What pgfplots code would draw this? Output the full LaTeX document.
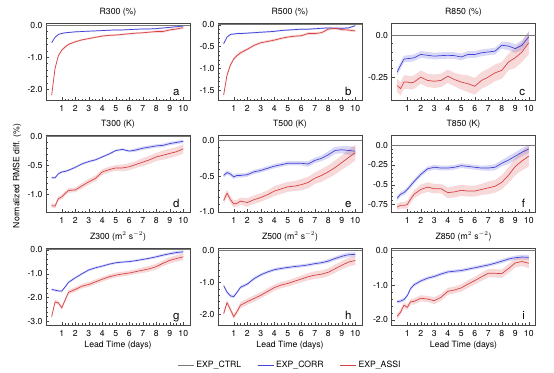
\documentclass[border=0pt]{standalone}
\usepackage{pgfplots}
\pgfplotsset{compat=1.18}
\usepackage{pgfplotstable}
\usepgfplotslibrary{fillbetween}
\usepackage{fontspec}
\setmainfont{TeX Gyre Heros}

\definecolor{ctrl}{RGB}{120,120,120}
\definecolor{corr}{RGB}{65,65,215}
\definecolor{assi}{RGB}{215,65,65}
\definecolor{framec}{RGB}{70,70,70}

\newcommand{\fs}{\fontsize{8.7}{10}\selectfont}
\pgfplotsset{legend image code/.code={\draw[#1, line width=0.9bp] (0bp,0bp) -- (16bp,0bp);}}

% panel a R300
\pgfplotstableread{
x b be r re
0.25 -0.55 0.02 -2.18 0.05
0.5 -0.38 0.02 -1.35 0.05
0.75 -0.29 0.02 -0.95 0.04
1 -0.26 0.02 -0.78 0.04
1.25 -0.24 0.02 -0.68 0.04
1.5 -0.23 0.02 -0.60 0.03
2 -0.21 0.02 -0.52 0.03
2.5 -0.20 0.02 -0.46 0.03
3 -0.19 0.02 -0.42 0.03
3.5 -0.18 0.02 -0.38 0.03
4 -0.17 0.02 -0.34 0.03
4.5 -0.16 0.02 -0.32 0.03
5 -0.15 0.02 -0.31 0.03
5.5 -0.15 0.02 -0.29 0.03
6 -0.14 0.02 -0.27 0.03
6.5 -0.13 0.02 -0.25 0.03
7 -0.12 0.02 -0.24 0.03
7.5 -0.12 0.02 -0.22 0.03
8 -0.11 0.02 -0.20 0.04
8.5 -0.09 0.02 -0.20 0.04
9 -0.07 0.02 -0.15 0.04
9.5 -0.05 0.02 -0.12 0.04
10 -0.03 0.02 -0.08 0.04
}\tA
% panel b R500
\pgfplotstableread{
x b be r re
0.25 -0.43 0.02 -1.60 0.05
0.5 -0.28 0.02 -1.15 0.05
0.75 -0.22 0.02 -0.92 0.04
1 -0.21 0.02 -0.78 0.04
1.25 -0.20 0.02 -0.70 0.04
1.5 -0.20 0.02 -0.64 0.04
2 -0.19 0.02 -0.56 0.03
2.5 -0.18 0.02 -0.47 0.03
3 -0.17 0.02 -0.41 0.03
3.5 -0.16 0.02 -0.38 0.03
4 -0.15 0.02 -0.35 0.03
4.5 -0.13 0.02 -0.31 0.03
5 -0.12 0.02 -0.28 0.03
5.5 -0.11 0.02 -0.26 0.03
6 -0.10 0.02 -0.25 0.03
6.5 -0.10 0.02 -0.20 0.03
7 -0.09 0.02 -0.20 0.03
7.5 -0.08 0.02 -0.18 0.03
8 -0.07 0.02 -0.10 0.03
8.5 -0.08 0.02 -0.08 0.03
9 -0.08 0.02 -0.11 0.03
9.5 -0.07 0.02 -0.12 0.03
10 -0.02 0.02 -0.14 0.03
}\tB
% panel c R850
\pgfplotstableread{
x b be r re
0.25 -0.22 0.02 -0.30 0.04
0.5 -0.18 0.02 -0.32 0.04
0.75 -0.143 0.02 -0.28 0.04
1 -0.14 0.02 -0.28 0.04
1.25 -0.138 0.02 -0.285 0.04
1.5 -0.135 0.02 -0.28 0.04
2 -0.115 0.02 -0.25 0.04
2.5 -0.12 0.02 -0.27 0.04
3 -0.125 0.02 -0.275 0.04
3.5 -0.122 0.02 -0.27 0.04
4 -0.12 0.02 -0.245 0.04
4.5 -0.122 0.02 -0.265 0.04
5 -0.13 0.02 -0.28 0.045
5.5 -0.115 0.02 -0.29 0.05
6 -0.115 0.02 -0.305 0.05
6.5 -0.105 0.02 -0.27 0.05
7 -0.10 0.02 -0.25 0.05
7.5 -0.095 0.02 -0.225 0.05
8 -0.06 0.02 -0.21 0.05
8.5 -0.065 0.025 -0.16 0.05
9 -0.08 0.025 -0.135 0.06
9.5 -0.06 0.03 -0.10 0.06
10 -0.01 0.03 -0.045 0.07
}\tC
% panel d T300
\pgfplotstableread{
x b be r re
0.25 -0.71 0.02 -1.19 0.04
0.5 -0.71 0.02 -1.20 0.04
0.75 -0.64 0.02 -1.07 0.04
1 -0.61 0.02 -1.04 0.04
1.25 -0.60 0.02 -0.98 0.04
1.5 -0.58 0.02 -0.93 0.04
2 -0.53 0.02 -0.92 0.04
2.5 -0.47 0.02 -0.85 0.05
3 -0.43 0.02 -0.78 0.05
3.5 -0.40 0.02 -0.72 0.05
4 -0.35 0.02 -0.61 0.05
4.5 -0.30 0.02 -0.57 0.05
5 -0.24 0.02 -0.54 0.05
5.5 -0.22 0.02 -0.54 0.06
6 -0.25 0.02 -0.52 0.06
6.5 -0.23 0.03 -0.48 0.06
7 -0.20 0.03 -0.44 0.07
7.5 -0.18 0.03 -0.40 0.07
8 -0.16 0.03 -0.35 0.07
8.5 -0.15 0.03 -0.32 0.08
9 -0.12 0.03 -0.29 0.08
9.5 -0.10 0.03 -0.26 0.08
10 -0.08 0.03 -0.21 0.08
}\tD
% panel e T500
\pgfplotstableread{
x b be r re
0.25 -0.49 0.03 -0.84 0.05
0.5 -0.45 0.03 -0.74 0.05
0.75 -0.47 0.03 -0.83 0.05
1 -0.51 0.03 -0.89 0.05
1.25 -0.49 0.03 -0.88 0.05
1.5 -0.49 0.03 -0.85 0.05
2 -0.48 0.03 -0.87 0.06
2.5 -0.44 0.03 -0.83 0.06
3 -0.42 0.03 -0.80 0.06
3.5 -0.39 0.03 -0.76 0.06
4 -0.36 0.03 -0.71 0.07
4.5 -0.34 0.03 -0.68 0.07
5 -0.32 0.03 -0.65 0.07
5.5 -0.32 0.03 -0.64 0.07
6 -0.32 0.03 -0.62 0.08
6.5 -0.33 0.04 -0.59 0.08
7 -0.28 0.04 -0.53 0.08
7.5 -0.25 0.04 -0.49 0.09
8 -0.20 0.05 -0.44 0.09
8.5 -0.14 0.05 -0.38 0.10
9 -0.13 0.05 -0.31 0.10
9.5 -0.14 0.06 -0.24 0.11
10 -0.15 0.06 -0.17 0.11
}\tE
% panel f T850
\pgfplotstableread{
x b be r re
0.25 -0.67 0.03 -0.78 0.04
0.5 -0.62 0.03 -0.76 0.04
0.75 -0.60 0.03 -0.76 0.04
1 -0.56 0.03 -0.75 0.05
1.25 -0.51 0.03 -0.68 0.05
1.5 -0.46 0.03 -0.62 0.05
2 -0.37 0.03 -0.56 0.06
2.5 -0.30 0.03 -0.53 0.06
3 -0.28 0.03 -0.55 0.06
3.5 -0.29 0.03 -0.55 0.06
4 -0.29 0.03 -0.60 0.07
4.5 -0.28 0.03 -0.59 0.07
5 -0.26 0.03 -0.57 0.07
5.5 -0.27 0.03 -0.58 0.07
6 -0.28 0.03 -0.58 0.07
6.5 -0.29 0.03 -0.56 0.07
7 -0.29 0.035 -0.54 0.08
7.5 -0.28 0.04 -0.52 0.08
8 -0.23 0.04 -0.47 0.09
8.5 -0.19 0.05 -0.38 0.10
9 -0.14 0.05 -0.27 0.11
9.5 -0.09 0.05 -0.20 0.12
10 -0.05 0.05 -0.14 0.13
}\tF
% panel g Z300
\pgfplotstableread{
x b be r re
0.25 -1.66 0.05 -2.80 0.08
0.5 -1.69 0.05 -2.18 0.08
0.75 -1.72 0.05 -2.22 0.08
1 -1.73 0.05 -2.43 0.08
1.25 -1.55 0.05 -2.10 0.08
1.5 -1.36 0.05 -1.78 0.10
2 -1.17 0.05 -1.66 0.10
2.5 -1.00 0.05 -1.52 0.10
3 -0.84 0.05 -1.45 0.10
3.5 -0.75 0.05 -1.34 0.10
4 -0.68 0.05 -1.23 0.10
4.5 -0.60 0.05 -1.13 0.10
5 -0.54 0.05 -1.06 0.10
5.5 -0.51 0.05 -1.01 0.10
6 -0.49 0.05 -0.97 0.10
6.5 -0.45 0.05 -0.91 0.10
7 -0.40 0.05 -0.85 0.12
7.5 -0.35 0.05 -0.79 0.12
8 -0.29 0.06 -0.70 0.12
8.5 -0.22 0.06 -0.56 0.12
9 -0.16 0.06 -0.44 0.13
9.5 -0.11 0.07 -0.36 0.14
10 -0.08 0.07 -0.29 0.14
}\tG
% panel h Z500
\pgfplotstableread{
x b be r re
0.25 -1.10 0.05 -1.97 0.08
0.5 -1.30 0.05 -1.63 0.08
0.75 -1.42 0.05 -1.85 0.08
1 -1.44 0.05 -2.07 0.08
1.25 -1.30 0.05 -1.90 0.08
1.5 -1.15 0.05 -1.71 0.10
2 -1.05 0.05 -1.60 0.10
2.5 -0.88 0.05 -1.50 0.10
3 -0.76 0.05 -1.40 0.10
3.5 -0.67 0.05 -1.28 0.10
4 -0.60 0.05 -1.16 0.10
4.5 -0.56 0.05 -1.08 0.10
5 -0.53 0.05 -1.03 0.10
5.5 -0.50 0.05 -0.96 0.10
6 -0.48 0.05 -0.89 0.11
6.5 -0.45 0.05 -0.82 0.11
7 -0.41 0.05 -0.77 0.12
7.5 -0.38 0.05 -0.74 0.12
8 -0.33 0.06 -0.68 0.12
8.5 -0.25 0.06 -0.57 0.13
9 -0.18 0.07 -0.46 0.13
9.5 -0.13 0.07 -0.36 0.14
10 -0.12 0.07 -0.31 0.14
}\tH
% panel i Z850
\pgfplotstableread{
x b be r re
0.25 -1.48 0.05 -1.90 0.08
0.5 -1.46 0.05 -1.78 0.08
0.75 -1.42 0.05 -1.58 0.08
1 -1.30 0.05 -1.64 0.08
1.25 -1.10 0.05 -1.48 0.08
1.5 -0.99 0.05 -1.47 0.09
2 -0.88 0.05 -1.38 0.09
2.5 -0.80 0.05 -1.40 0.09
3 -0.75 0.05 -1.45 0.10
3.5 -0.68 0.05 -1.35 0.10
4 -0.62 0.05 -1.18 0.10
4.5 -0.60 0.05 -1.14 0.10
5 -0.58 0.05 -1.08 0.11
5.5 -0.54 0.05 -0.97 0.11
6 -0.50 0.05 -0.87 0.11
6.5 -0.46 0.05 -0.76 0.12
7 -0.42 0.05 -0.66 0.12
7.5 -0.37 0.05 -0.66 0.12
8 -0.31 0.06 -0.67 0.12
8.5 -0.25 0.06 -0.52 0.13
9 -0.21 0.06 -0.36 0.13
9.5 -0.19 0.07 -0.32 0.13
10 -0.20 0.07 -0.37 0.14
}\tI

\newcommand{\series}[2]{%
  \addplot[draw=none, name path=bu#2, forget plot] table[x=x, y expr=\thisrow{b}+\thisrow{be}] {#1};
  \addplot[draw=none, name path=bl#2, forget plot] table[x=x, y expr=\thisrow{b}-\thisrow{be}] {#1};
  \addplot[draw=none, name path=ru#2, forget plot] table[x=x, y expr=\thisrow{r}+\thisrow{re}] {#1};
  \addplot[draw=none, name path=rl#2, forget plot] table[x=x, y expr=\thisrow{r}-\thisrow{re}] {#1};
  \addplot[fill=corr, fill opacity=0.2, draw=none, forget plot] fill between[of=bu#2 and bl#2];
  \addplot[fill=assi, fill opacity=0.2, draw=none, forget plot] fill between[of=ru#2 and rl#2];
  \addplot[ctrl, line width=0.9bp] coordinates {(-1,0) (11,0)};
  \addplot[corr, line width=0.7bp] table[x=x, y=b] {#1};
  \addplot[assi, line width=0.7bp] table[x=x, y=r] {#1};
}
\newcommand{\plabel}[1]{\node[anchor=base east, xshift=-7bp, yshift=5bp, font=\fontsize{11.5}{12}\selectfont] at (rel axis cs:1,0) {#1};}

\pgfplotsset{panel/.style={
  scale only axis, width=144bp, height=77bp,
  xmin=-0.17, xmax=10.5,
  xtick={1,2,3,4,5,6,7,8,9,10},
  xticklabels={1,2,3,4,5,6,7,8,9,10},
  minor x tick num=3, minor y tick num=4,
  tick pos=left, tick align=inside,
  major tick length=3bp, minor tick length=1.5bp,
  axis line style={framec, line width=0.5bp},
  every tick/.style={framec, line width=0.4bp},
  tick label style={font=\fs},
  xticklabel style={yshift=-1.5bp},
  every axis title shift=0pt,
  title style={font=\fs, at={(0.5,1)}, anchor=base, yshift=8.5bp},
  label style={font=\fs},
  xlabel style={at={(axis description cs:0.5,0)}, anchor=base, yshift=-22bp},
}}

\begin{document}
\begin{tikzpicture}
% row 1
\begin{axis}[panel, at={(46bp,272.5bp)}, anchor=south west, title={R300 (\%)},
  ymin=-2.35, ymax=0.05, ytick={-2,-1,0}, yticklabels={-2.0,-1.0,0.0}]
\series{\tA}{a}
\plabel{a}
\end{axis}
\begin{axis}[panel, at={(218bp,272.5bp)}, anchor=south west, title={R500 (\%)},
  ymin=-1.73, ymax=0.03, ytick={-1.5,-1,-0.5,0}, yticklabels={-1.5,-1.0,-0.5,0.0}]
\series{\tB}{b}
\plabel{b}
\end{axis}
\begin{axis}[panel, at={(391.5bp,272.5bp)}, anchor=south west, title={R850 (\%)},
  ymin=-0.39, ymax=0.07, ytick={-0.25,0}, yticklabels={-0.25,0.0}]
\series{\tC}{c}
\plabel{c}
\end{axis}
% row 2
\begin{axis}[panel, at={(46bp,160.5bp)}, anchor=south west, title={T300 (K)},
  ymin=-1.31, ymax=0.02, ytick={-1,-0.5,0}, yticklabels={-1.0,-0.5,0.0}]
\series{\tD}{d}
\plabel{d}
\end{axis}
\begin{axis}[panel, at={(218bp,160.5bp)}, anchor=south west, title={T500 (K)},
  ymin=-1.01, ymax=0.07, ytick={-1,-0.5,0}, yticklabels={-1.0,-0.5,0.0}]
\series{\tE}{e}
\plabel{e}
\end{axis}
\begin{axis}[panel, at={(391.5bp,160.5bp)}, anchor=south west, title={T850 (K)},
  ymin=-0.85, ymax=0.12, ytick={-0.75,-0.5,-0.25,0}, yticklabels={-0.75,-0.5,-0.25,0.0}]
\series{\tF}{f}
\plabel{f}
\end{axis}
% row 3
\begin{axis}[panel, at={(46bp,48bp)}, anchor=south west, title={Z300 (m$^2$ s$^{-2}$)},
  ymin=-3.15, ymax=0.08, ytick={-3,-2,-1,0}, yticklabels={-3.0,-2.0,-1.0,0.0},
  xlabel={Lead Time (days)}]
\series{\tG}{g}
\plabel{g}
\end{axis}
\begin{axis}[panel, at={(218bp,48bp)}, anchor=south west, title={Z500 (m$^2$ s$^{-2}$)},
  ymin=-2.33, ymax=0.08, ytick={-2,-1,0}, yticklabels={-2.0,-1.0,0.0},
  xlabel={Lead Time (days)},
  legend columns=3,
  legend style={at={(axis description cs:0.5,-0.519)}, anchor=center, draw=none, fill=none, font=\fs,
    /tikz/every even column/.append style={column sep=14bp}}]
\series{\tH}{h}
\plabel{h}
\legend{EXP\_CTRL, EXP\_CORR, EXP\_ASSI}
\end{axis}
\begin{axis}[panel, at={(391.5bp,48bp)}, anchor=south west, title={Z850 (m$^2$ s$^{-2}$)},
  ymin=-2.15, ymax=0.07, ytick={-2,-1,0}, yticklabels={-2.0,-1.0,0.0},
  xlabel={Lead Time (days)}]
\series{\tI}{i}
\plabel{i}
\end{axis}
\node[rotate=90, font=\fs] at (17bp,197bp) {Normalized RMSE diff. (\%)};
\pgfresetboundingbox
\useasboundingbox (0,0) rectangle (554bp,373bp);
\end{tikzpicture}
\end{document}
